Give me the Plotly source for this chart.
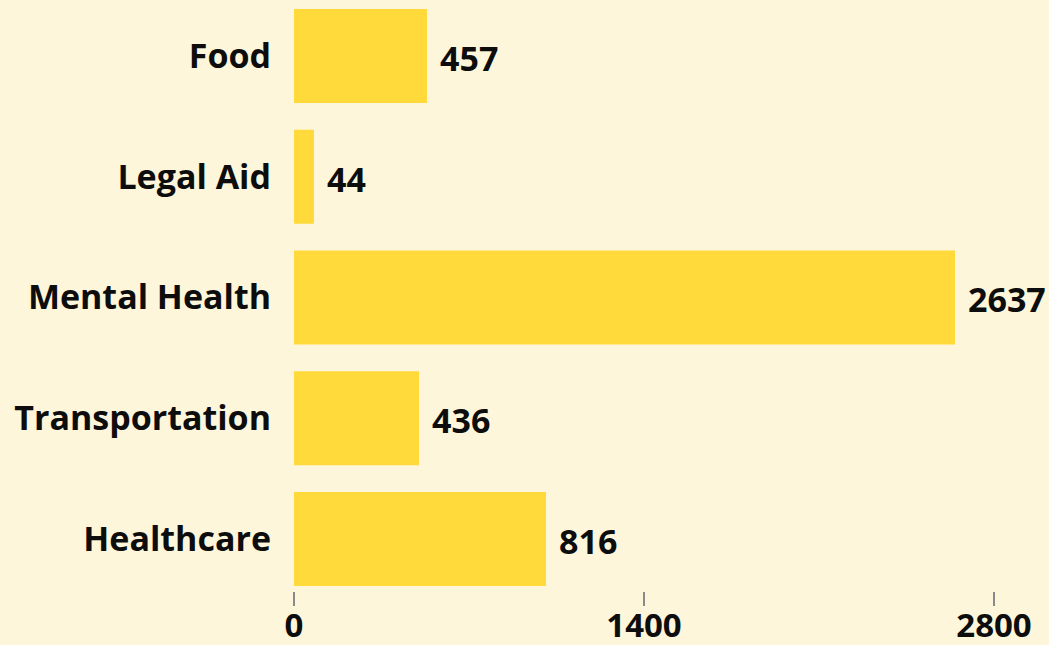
import plotly.graph_objects as go

categories = ["Food", "Legal Aid", "Mental Health", "Transportation", "Healthcare"]
bar_values = [532, 80, 2644, 500, 1008]
value_labels = ["457", "44", "2637", "436", "816"]
x_tick_values = [0, 1400, 2800]
x_tick_labels = ["0", "1400", "2800"]

BG = "#FEF6DA"
BAR = "#FFDA3A"
FONT = "Open Sans"
TXT = "#0d0d0d"

fig = go.Figure()
fig.add_trace(go.Bar(
    x=bar_values,
    y=categories,
    orientation="h",
    marker=dict(color=BAR, line=dict(width=0)),
    hoverinfo="skip",
))

for cat, val, lab in zip(categories, bar_values, value_labels):
    fig.add_annotation(
        x=val, y=cat, text="<b>%s</b>" % lab, showarrow=False,
        xanchor="left", yanchor="middle", xshift=11, yshift=-2,
        font=dict(family=FONT, size=34, color=TXT),
    )

fig.update_layout(
    width=1049, height=645,
    paper_bgcolor=BG, plot_bgcolor=BG,
    margin=dict(l=294, r=55, t=0, b=54, autoexpand=False),
    bargap=0.222,
    showlegend=False,
    font=dict(family=FONT, color=TXT),
)
fig.update_xaxes(
    range=[0, 2800],
    tickvals=x_tick_values,
    ticktext=["<b>%s</b>" % t for t in x_tick_labels],
    ticks="outside", ticklen=14, tickwidth=2, tickcolor="#8a8a8a",
    showgrid=False, zeroline=False, showline=False,
    tickfont=dict(family=FONT, size=33, color=TXT),
    ticklabelstandoff=-9,
    automargin=False,
)
fig.update_yaxes(
    categoryorder="array", categoryarray=categories,
    range=[4.431, -0.464],
    ticks="", showgrid=False, zeroline=False, showline=False,
    ticktext=["<b>%s</b>" % c for c in categories], tickvals=categories,
    tickfont=dict(family=FONT, size=34, color=TXT),
    ticklabelstandoff=22,
    automargin=False,
)

fig.write_html(
    "out.html",
    config={"displayModeBar": False},
    post_script="document.body.style.margin='0';document.body.style.padding='0';",
)
